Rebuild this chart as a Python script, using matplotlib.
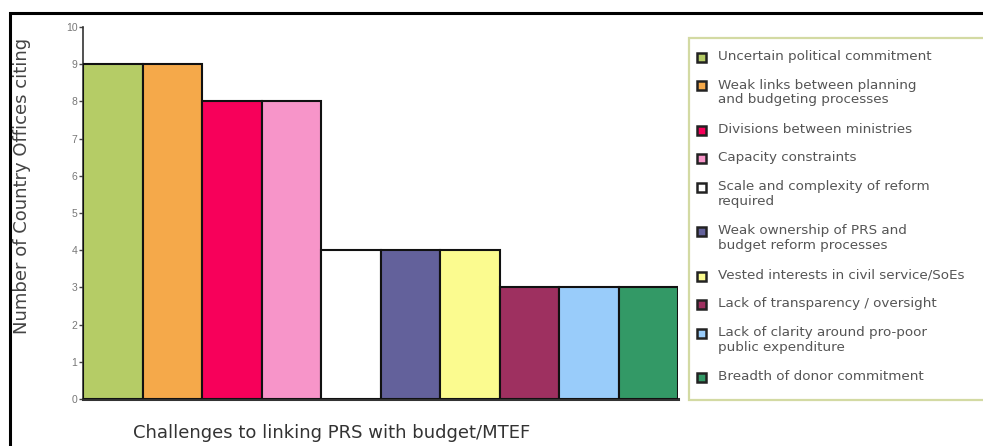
import matplotlib
matplotlib.use("Agg")
import matplotlib.pyplot as plt
from matplotlib.patches import Rectangle

categories = [
    "Uncertain political commitment",
    "Weak links between planning\nand budgeting processes",
    "Divisions between ministries",
    "Capacity constraints",
    "Scale and complexity of reform\nrequired",
    "Weak ownership of PRS and\nbudget reform processes",
    "Vested interests in civil service/SoEs",
    "Lack of transparency / oversight",
    "Lack of clarity around pro-poor\npublic expenditure",
    "Breadth of donor commitment",
]
counts = [9, 9, 8, 8, 4, 4, 4, 3, 3, 3]
colors = ["#b5cc66", "#f5a94a", "#f7005a", "#f795c9", "#ffffff",
          "#63619b", "#fbfb8f", "#9e3060", "#99ccfa", "#339966"]
y_ticks = list(range(0, 11))

W, H = 983, 446
fig = plt.figure(figsize=(W / 100, H / 100), dpi=100)
fig.patch.set_facecolor("white")

def fx(px):
    return px / W

def fy(py):
    return 1 - py / H

ax = fig.add_axes([fx(83), fy(399), fx(678) - fx(83), fy(27) - fy(399)])
x = list(range(len(counts)))
ax.bar(x, counts, width=1.0, color=colors, edgecolor="#111111", linewidth=1.5, align="edge", zorder=3)
ax.set_xlim(0, len(counts))
ax.set_ylim(0, 10)
ax.set_yticks(y_ticks)
ax.set_yticklabels([str(t) for t in y_ticks], fontsize=7.5, color="#777777", family="Liberation Sans")
ax.tick_params(axis="y", direction="out", length=3, width=1, color="#444444", pad=1)
ax.set_xticks([])
for s in ["top", "right"]:
    ax.spines[s].set_visible(False)
ax.spines["left"].set_color("#333333")
ax.spines["left"].set_linewidth(1.2)
ax.spines["bottom"].set_color("#333333")
ax.spines["bottom"].set_linewidth(2.2)
ax.patch.set_alpha(0)

# outer border (top and left visible)
fig.add_artist(Rectangle((fx(10), fy(460)), fx(1000) - fx(10), fy(13) - fy(460),
                         transform=fig.transFigure, fill=False, edgecolor="black", linewidth=2.2))

# axis labels
fig.text(fx(22), fy(186), "Number of Country Offices citing", rotation=90, ha="center", va="center",
         fontsize=13, color="#444444", family="DejaVu Sans")
fig.text(fx(332), fy(433), "Challenges to linking PRS with budget/MTEF", ha="center", va="center",
         fontsize=13, color="#333333", family="DejaVu Sans")

# legend box
fig.add_artist(Rectangle((fx(689), fy(400)), fx(1000) - fx(689), fy(38) - fy(400),
                         transform=fig.transFigure, facecolor="white", edgecolor="#d3daa3", linewidth=1.6))

y = 57.0
pitch = 28.5
line_h = 16.0
for lab, col in zip(categories, colors):
    fig.add_artist(Rectangle((fx(697), fy(y + 4.5)), fx(9), fy(0) - fy(9),
                             transform=fig.transFigure, facecolor=col, edgecolor="#222222", linewidth=1.8))
    fig.text(fx(718), fy(y - 7), lab, ha="left", va="top", fontsize=9.7, color="#555555",
             family="DejaVu Sans", linespacing=1.2)
    y += pitch + line_h * lab.count("\n")

fig.savefig("out.png", dpi=100, facecolor="white")
